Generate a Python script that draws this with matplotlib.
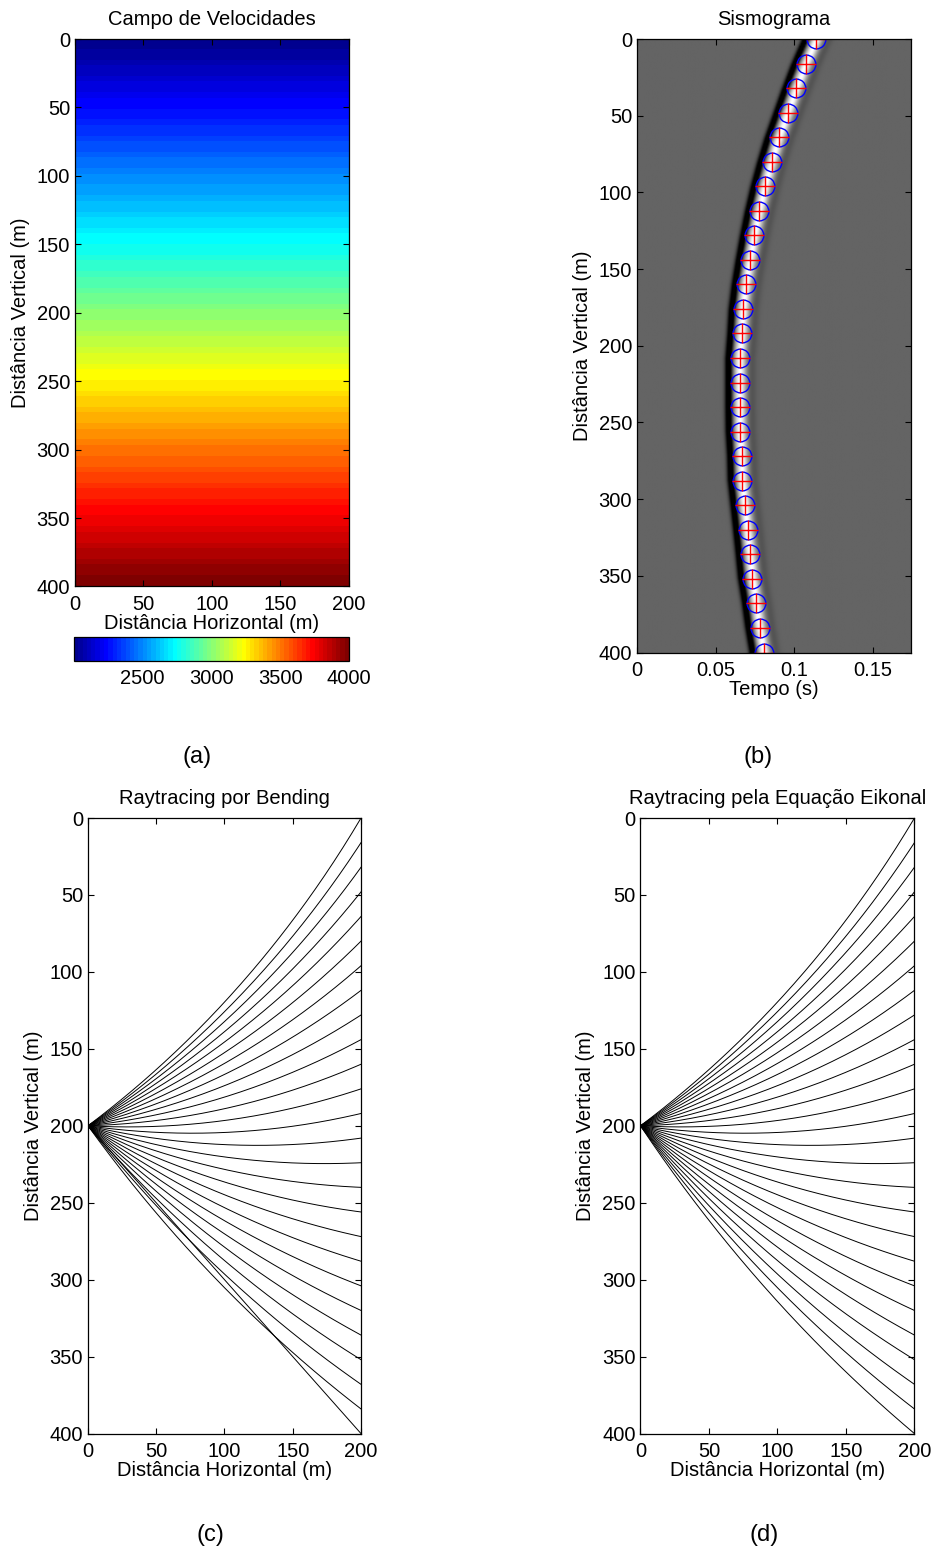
import numpy as np
import matplotlib
matplotlib.use("Agg")
import matplotlib.pyplot as plt
from matplotlib.cm import ScalarMappable
from matplotlib.colors import Normalize, ListedColormap

plt.rcParams['font.family'] = ['Liberation Sans', 'DejaVu Sans']
plt.rcParams['font.size'] = 14.5

# modelo de velocidade (gradiente linear)
vel_depth = [0.0, 400.0]
vel_value = [2000.0, 4000.0]

# fonte e receptores
src_x, src_z = 0.0, 200.0
rec_x = 200.0
rec_depth = [0, 16, 32, 48, 64, 80, 96, 112, 128, 144, 160, 176, 192,
             208, 224, 240, 256, 272, 288, 304, 320, 336, 352, 368, 384, 400]

# tempos picados no sismograma (s)
pick_time = [0.1139, 0.1072, 0.1013, 0.0958, 0.0903, 0.0856, 0.0814, 0.0778,
             0.0747, 0.0719, 0.0694, 0.0675, 0.0666, 0.0654, 0.0654, 0.0654,
             0.0656, 0.0665, 0.0669, 0.0686, 0.0703, 0.0719, 0.0734, 0.0759,
             0.0780, 0.0806]

cb_ticks = [2500, 3000, 3500, 4000]
t_max = 0.174
FS = 14.5


def matlab_jet(m=64):
    # mesmo jet do matlab (amarelo um pouco antes do jet do matplotlib)
    n = int(np.ceil(m / 4))
    u = np.concatenate([np.arange(1, n + 1) / n, np.ones(n - 1),
                        np.arange(n, 0, -1) / n])
    g = int(np.ceil(n / 2)) - (1 if m % 4 == 1 else 0) + np.arange(1, len(u) + 1)
    r = g + n
    b = g - n
    J = np.zeros((m, 3))
    J[r[r <= m] - 1, 0] = u[r <= m]
    J[g[g <= m] - 1, 1] = u[g <= m]
    J[b[b >= 1] - 1, 2] = u[b >= 1]
    return ListedColormap(J)


def style_axes(ax):
    ax.tick_params(direction='in', top=True, right=True, length=4, width=0.8,
                   labelsize=FS)
    ax.tick_params(axis='x', pad=6)
    for s in ax.spines.values():
        s.set_linewidth(0.9)


def raio_circular(zr):
    # em meio com gradiente linear os raios sao arcos de circulo
    v0 = vel_value[0]
    g = (vel_value[1] - vel_value[0]) / (vel_depth[1] - vel_depth[0])
    zc = -v0 / g
    xc = (rec_x**2 - src_x**2 + (zr - zc)**2 - (src_z - zc)**2) / (2 * (rec_x - src_x))
    R = np.hypot(src_x - xc, src_z - zc)
    xs = np.linspace(src_x, rec_x, 151)
    zs = zc + np.sqrt(R**2 - (xs - xc)**2)
    return xs, zs


fig = plt.figure(figsize=(9.35, 15.54), dpi=100)

# (a) campo de velocidades
ax1 = fig.add_axes([0.0802, 0.6226, 0.2930, 0.3523])
zg = np.linspace(0, 400, 101)
vg = np.interp(zg, vel_depth, vel_value)
img = np.tile(vg[:, None], (1, 51))
cmap = matlab_jet(64)
ax1.imshow(img, cmap=cmap, vmin=2000, vmax=4000, extent=[0, 200, 400, 0],
           aspect='auto', interpolation='nearest')
ax1.set_xlim(0, 200)
ax1.set_ylim(400, 0)
ax1.set_xticks([0, 50, 100, 150, 200])
ax1.set_yticks(range(0, 401, 50))
ax1.set_title('Campo de Velocidades', fontsize=FS, pad=10)
ax1.set_xlabel('Distância Horizontal (m)', labelpad=0)
ax1.set_ylabel('Distância Vertical (m)', labelpad=5)
style_axes(ax1)

cax = fig.add_axes([0.0791, 0.5746, 0.2941, 0.0158])
cb = fig.colorbar(ScalarMappable(norm=Normalize(2000, 4000), cmap=cmap),
                  cax=cax, orientation='horizontal')
cb.set_ticks(cb_ticks)
cb.ax.tick_params(labelsize=FS, length=0, pad=6)
cb.outline.set_linewidth(0.9)

# (b) sismograma
ax2 = fig.add_axes([0.6813, 0.5801, 0.2925, 0.3948])
tt = np.linspace(0, t_max, 700)
zz = np.linspace(0, 400, 201)
tp = np.interp(zz, rec_depth, pick_time)
tau = tt[None, :] - tp[:, None]
sis = (np.exp(-(tau / 0.0038)**2)
       - 0.95 * np.exp(-((tau + 0.0072) / 0.0024)**2)
       - 0.12 * np.exp(-((tau - 0.0075) / 0.003)**2))
ax2.imshow(sis, cmap='gray', vmin=-0.65, vmax=1.0, extent=[0, t_max, 400, 0],
           aspect='auto', interpolation='bilinear')
ax2.plot(pick_time, rec_depth, 'bo', mfc='none', ms=13.5, mew=1.0)
ax2.plot(pick_time, rec_depth, 'r+', ms=14, mew=1.0)
ax2.set_xlim(0, t_max)
ax2.set_ylim(400, 0)
ax2.set_xticks([0, 0.05, 0.1, 0.15])
ax2.set_xticklabels(['0', '0.05', '0.1', '0.15'])
ax2.set_yticks(range(0, 401, 50))
ax2.set_title('Sismograma', fontsize=FS, pad=10)
ax2.set_xlabel('Tempo (s)', labelpad=0)
ax2.set_ylabel('Distância Vertical (m)', labelpad=5)
style_axes(ax2)

# (c) bending  e  (d) eikonal
ax3 = fig.add_axes([0.0941, 0.0775, 0.2920, 0.3961])
ax4 = fig.add_axes([0.6850, 0.0775, 0.2930, 0.3961])
for i, zr in enumerate(rec_depth):
    xs, zs = raio_circular(zr)
    ax4.plot(xs, zs, 'k-', lw=0.7)
    if i == len(rec_depth) - 1:
        # ultimo raio do bending nao convergiu (ficou reto)
        ax3.plot([src_x, rec_x], [src_z, zr], 'k-', lw=0.7)
    else:
        ax3.plot(xs, zs, 'k-', lw=0.7)

for ax, tit in [(ax3, 'Raytracing por Bending'),
                (ax4, 'Raytracing pela Equação Eikonal')]:
    ax.set_xlim(0, 200)
    ax.set_ylim(400, 0)
    ax.set_xticks([0, 50, 100, 150, 200])
    ax.set_yticks(range(0, 401, 50))
    ax.set_title(tit, fontsize=FS, pad=10)
    ax.set_xlabel('Distância Horizontal (m)', labelpad=0)
    ax.set_ylabel('Distância Vertical (m)', labelpad=5)
    style_axes(ax)

fig.text(0.2107, 0.5129, '(a)', ha='center', va='center', fontsize=17)
fig.text(0.8107, 0.5129, '(b)', ha='center', va='center', fontsize=17)
fig.text(0.2246, 0.0122, '(c)', ha='center', va='center', fontsize=17)
fig.text(0.8171, 0.0122, '(d)', ha='center', va='center', fontsize=17)

fig.savefig('out.png', dpi=100)
